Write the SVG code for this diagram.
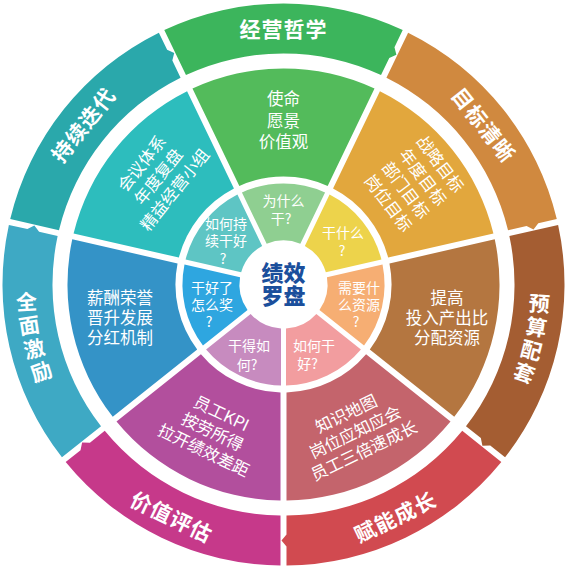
<svg xmlns="http://www.w3.org/2000/svg" width="567" height="567" viewBox="0 0 567 567">
<defs>
<style>
text{font-family:"Noto Sans CJK SC","Noto Sans",sans-serif;fill:#fff;text-anchor:middle;dominant-baseline:central}
.o{font-size:21px;font-weight:700;letter-spacing:1px}
.m{font-size:16.5px}
.i{font-size:14px}
.c{font-size:22px;font-weight:900;fill:#1b4f9c}
</style>
<path id="si" d="M-41.57,-92.09 A101,101 0 0 1 41.57,-92.09 L16.84,-40.73 A44,44 0 0 0 -16.84,-40.73 Z"/>
<path id="sm" d="M-91.02,-195.91 A216,216 0 0 1 91.02,-195.91 L44.16,-98.60 A108,108 0 0 0 -44.16,-98.60 Z"/>
<path id="so" d="M-119.22,-254.47 A281,281 0 0 1 119.22,-254.47 L110.98,-237.35 L112.87,-229.78 L105.77,-226.54 L97.53,-209.42 A231,231 0 0 0 -97.53,-209.42 Z"/>
</defs>
<rect width="567" height="567" fill="#fff"/>

<g id="outer-jingying-zhexue">
<use href="#so" transform="translate(283.5,284.5)" fill="#3cb55c"/>
<text class="o" transform="translate(283.5,284.5) translate(0,-257)">经营哲学</text>
</g>
<g id="outer-mubiao-qingxi">
<use href="#so" transform="translate(283.5,284.5) rotate(51.4286)" fill="#d0893f"/>
<text class="o" transform="translate(283.5,284.5) rotate(51.43) translate(0,-257)">目标清晰</text>
</g>
<g id="outer-yusuan-peitao">
<use href="#so" transform="translate(283.5,284.5) rotate(102.857)" fill="#a45d32"/>
<text class="o" transform="translate(283.5,284.5) rotate(94) translate(0,-257) rotate(-90)">预</text>
<text class="o" transform="translate(283.5,284.5) rotate(99.3) translate(0,-257) rotate(-90)">算</text>
<text class="o" transform="translate(283.5,284.5) rotate(104.6) translate(0,-257) rotate(-90)">配</text>
<text class="o" transform="translate(283.5,284.5) rotate(109.9) translate(0,-257) rotate(-90)">套</text>
</g>
<g id="outer-funeng-chengzhang">
<use href="#so" transform="translate(283.5,284.5) rotate(154.286)" fill="#d14a50"/>
<text class="o" transform="translate(283.5,284.5) rotate(-25.71) translate(0,257)">赋能成长</text>
</g>
<g id="outer-jiazhi-pinggu">
<use href="#so" transform="translate(283.5,284.5) rotate(205.714)" fill="#c6398a"/>
<text class="o" transform="translate(283.5,284.5) rotate(25.71) translate(0,257)">价值评估</text>
</g>
<g id="outer-quanmian-jili">
<use href="#so" transform="translate(283.5,284.5) rotate(257.143)" fill="#3ea9c4"/>
<text class="o" transform="translate(283.5,284.5) rotate(266.4) translate(0,-257) rotate(90)">全</text>
<text class="o" transform="translate(283.5,284.5) rotate(261.1) translate(0,-257) rotate(90)">面</text>
<text class="o" transform="translate(283.5,284.5) rotate(255.8) translate(0,-257) rotate(90)">激</text>
<text class="o" transform="translate(283.5,284.5) rotate(250.5) translate(0,-257) rotate(90)">励</text>
</g>
<g id="outer-chixu-diedai">
<use href="#so" transform="translate(283.5,284.5) rotate(308.571)" fill="#2aa8ab"/>
<text class="o" transform="translate(283.5,284.5) rotate(-51.43) translate(0,-257)">持续迭代</text>
</g>

<g id="mid-shiming">
<use href="#sm" transform="translate(283.5,284.5)" fill="#53bb5b"/>
<text class="m"><tspan x="283.5" y="98">使命</tspan><tspan x="283.5" y="119.5">愿景</tspan><tspan x="283.5" y="141">价值观</tspan></text>
</g>
<g id="mid-zhanlve">
<use href="#sm" transform="translate(283.5,284.5) rotate(51.4286)" fill="#e2a73d"/>
<text class="m" transform="translate(415,183) rotate(53)"><tspan x="0" y="-32.5">战略目标</tspan><tspan x="0" y="-10.8">年度目标</tspan><tspan x="0" y="10.8">部门目标</tspan><tspan x="0" y="32.5">岗位目标</tspan></text>
</g>
<g id="mid-touru">
<use href="#sm" transform="translate(283.5,284.5) rotate(102.857)" fill="#b47640"/>
<text class="m"><tspan x="447" y="297">提高</tspan><tspan x="447" y="317">投入产出比</tspan><tspan x="447" y="337">分配资源</tspan></text>
</g>
<g id="mid-zhishi">
<use href="#sm" transform="translate(283.5,284.5) rotate(154.286)" fill="#c4646c"/>
<text class="m" transform="translate(354.7,431.3) rotate(-25.71)"><tspan x="0" y="-20.5">知识地图</tspan><tspan x="0" y="0">岗位应知应会</tspan><tspan x="0" y="20.5">员工三倍速成长</tspan></text>
</g>
<g id="mid-kpi">
<use href="#sm" transform="translate(283.5,284.5) rotate(205.714)" fill="#b24f9d"/>
<text class="m" transform="translate(213,431) rotate(25.71)"><tspan x="0" y="-20.5">员工KPI</tspan><tspan x="0" y="0">按劳所得</tspan><tspan x="0" y="20.5">拉开绩效差距</tspan></text>
</g>
<g id="mid-xinchou">
<use href="#sm" transform="translate(283.5,284.5) rotate(257.143)" fill="#3493c7"/>
<text class="m"><tspan x="120" y="297">薪酬荣誉</tspan><tspan x="120" y="317">晋升发展</tspan><tspan x="120" y="337">分红机制</tspan></text>
</g>
<g id="mid-huiyi">
<use href="#sm" transform="translate(283.5,284.5) rotate(308.571)" fill="#2dbdbd"/>
<text class="m" transform="translate(157.5,176) rotate(-51.43)"><tspan x="0" y="-21">会议体系</tspan><tspan x="0" y="0">年度复盘</tspan><tspan x="0" y="21">精益经营小组</tspan></text>
</g>

<g id="in-weishenme">
<use href="#si" transform="translate(283.5,284.5)" fill="#8fcf91"/>
<text class="i"><tspan x="283.5" y="200">为什么</tspan><tspan x="281" y="218">干?</tspan></text>
</g>
<g id="in-ganshenme">
<use href="#si" transform="translate(283.5,284.5) rotate(51.4286)" fill="#edd34b"/>
<text class="i"><tspan x="343" y="232">干什么</tspan><tspan x="342" y="250">?</tspan></text>
</g>
<g id="in-ziyuan">
<use href="#si" transform="translate(283.5,284.5) rotate(102.857)" fill="#f6ae73"/>
<text class="i"><tspan x="359" y="286.5">需要什</tspan><tspan x="359" y="303.5">么资源</tspan><tspan x="356" y="320.5">?</tspan></text>
</g>
<g id="in-ruheganhao">
<use href="#si" transform="translate(283.5,284.5) rotate(154.286)" fill="#f29d9f"/>
<text class="i"><tspan x="314" y="345">如何干</tspan><tspan x="307.5" y="363">好?</tspan></text>
</g>
<g id="in-gande">
<use href="#si" transform="translate(283.5,284.5) rotate(205.714)" fill="#c78bbf"/>
<text class="i"><tspan x="249" y="345">干得如</tspan><tspan x="247" y="364">何?</tspan></text>
</g>
<g id="in-zenmejiang">
<use href="#si" transform="translate(283.5,284.5) rotate(257.143)" fill="#2ea6e0"/>
<text class="i"><tspan x="212" y="286.5">干好了</tspan><tspan x="212" y="303.5">怎么奖</tspan><tspan x="209" y="320.5">?</tspan></text>
</g>
<g id="in-chixu">
<use href="#si" transform="translate(283.5,284.5) rotate(308.571)" fill="#5ec5c4"/>
<text class="i"><tspan x="226" y="222.5">如何持</tspan><tspan x="226" y="240">续干好</tspan><tspan x="223" y="257.5">?</tspan></text>
</g>

<g id="center">
<circle cx="283.5" cy="284.5" r="40" fill="#fff"/>
<text class="c"><tspan x="283.5" y="270.5">绩效</tspan><tspan x="283.5" y="294">罗盘</tspan></text>
</g>
<g id="connectors"/>
</svg>
